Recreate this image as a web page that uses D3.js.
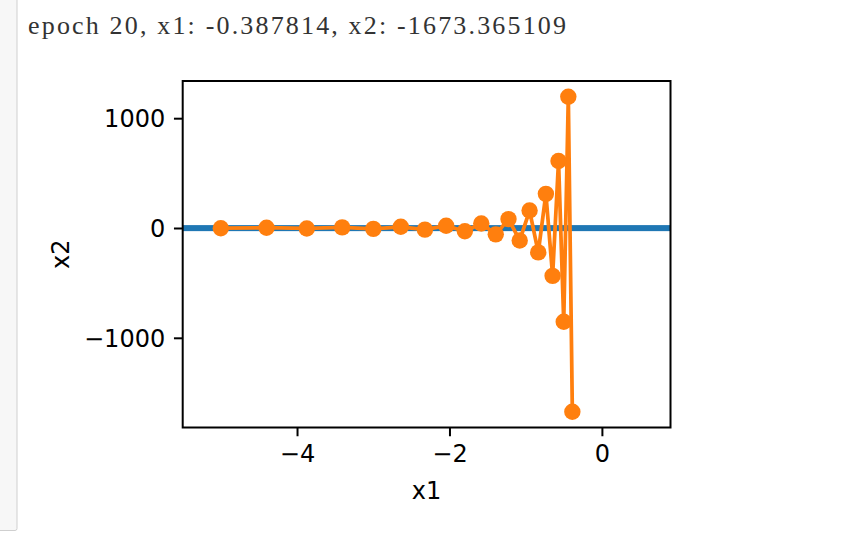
<!DOCTYPE html>
<html>
<head>
<meta charset="utf-8">
<script src="https://cdn.jsdelivr.net/npm/d3@7"></script>
<style>
  html, body { margin: 0; padding: 0; background: #fff; }
  svg { display: block; }
</style>
</head>
<body>
<svg id="chart" width="865" height="536"></svg>
<script>
// ---- data (trace of gradient descent) ----
const headerText = "epoch 20, x1: -0.387814, x2: -1673.365109";
const traceX1 = [-5, -4.4, -3.872, -3.40736, -2.99848, -2.63866, -2.32202, -2.04338,
  -1.79817, -1.58239, -1.39250, -1.22540, -1.07835, -0.94895, -0.83508, -0.73487,
  -0.64668, -0.56908, -0.50079, -0.44070, -0.38781];
const traceX2 = [-2, 2.8, -3.92, 5.488, -7.683, 10.756, -15.059, 21.083, -29.516,
  41.322, -57.851, 80.991, -113.388, 158.743, -222.240, 311.136, -435.591, 609.827,
  -853.758, 1195.261, -1673.365];
const contourX1Range = [-5.5, 0.9];
const contourX2Range = [-3.0, 0.9];
const xTicks = [-4, -2, 0];
const yTicks = [-1000, 0, 1000];
const xLabel = "x1";
const yLabel = "x2";

// ---- layout ----
const svg = d3.select("#chart");
const pLeft = 182.7, pRight = 670.5, pTop = 81, pBottom = 427.5;

// notebook cell side panel
svg.append("rect")
  .attr("x", -4).attr("y", -4).attr("width", 21).attr("height", 534.5)
  .attr("rx", 2)
  .attr("fill", "#f7f7f7").attr("stroke", "#cfcfcf").attr("stroke-width", 1);

// header output text
svg.append("text")
  .attr("x", 28).attr("y", 34)
  .attr("font-family", "'Liberation Serif', 'DejaVu Serif', serif")
  .attr("font-size", 26)
  .attr("fill", "#333")
  .attr("textLength", 538)
  .attr("lengthAdjust", "spacing")
  .text(headerText);

const xmin = Math.min(contourX1Range[0], d3.min(traceX1));
const xmax = Math.max(contourX1Range[1], d3.max(traceX1));
const ylo = Math.min(contourX2Range[0], d3.min(traceX2));
const yhi = Math.max(contourX2Range[1], d3.max(traceX2));
const pad = (yhi - ylo) * 0.05;

const x = d3.scaleLinear().domain([xmin, xmax]).range([pLeft, pRight]);
const y = d3.scaleLinear().domain([ylo - pad, yhi + pad]).range([pBottom, pTop]);

const fmt = v => (v < 0 ? "\u2212" + Math.abs(v) : String(v));
const font = "'DejaVu Sans', sans-serif";
const fs = 24;

svg.append("clipPath").attr("id", "clip")
  .append("rect").attr("x", pLeft).attr("y", pTop)
  .attr("width", pRight - pLeft).attr("height", pBottom - pTop);

const plot = svg.append("g").attr("clip-path", "url(#clip)");

// contour band (collapsed contour lines at this scale)
const cTop = y(contourX2Range[1]), cBot = y(contourX2Range[0]);
plot.append("rect")
  .attr("x", x(contourX1Range[0])).attr("width", x(contourX1Range[1]) - x(contourX1Range[0]))
  .attr("y", cTop - 2.8).attr("height", (cBot - cTop) + 5.6)
  .attr("fill", "#1f77b4");

// trace line + markers
const pts = traceX1.map((v, i) => [v, traceX2[i]]);
plot.append("path")
  .datum(pts)
  .attr("d", d3.line().x(d => x(d[0])).y(d => y(d[1])))
  .attr("fill", "none")
  .attr("stroke", "#ff7f0e")
  .attr("stroke-width", 3.75)
  .attr("stroke-linejoin", "round");

plot.selectAll("circle.pt")
  .data(pts).enter().append("circle")
  .attr("class", "pt")
  .attr("cx", d => x(d[0])).attr("cy", d => y(d[1]))
  .attr("r", 8.2)
  .attr("fill", "#ff7f0e");

// axes
const xAxis = d3.axisBottom(x).tickValues(xTicks).tickFormat(fmt)
  .tickSize(8.75).tickPadding(8.75);
const gx = svg.append("g").attr("transform", `translate(0,${pBottom})`).call(xAxis);
gx.select(".domain").remove();
gx.selectAll(".tick line").attr("stroke", "#000").attr("stroke-width", 2);
gx.selectAll(".tick text").attr("font-family", font).attr("font-size", fs)
  .attr("fill", "#000").attr("dy", "0.71em");

const yAxis = d3.axisLeft(y).tickValues(yTicks).tickFormat(fmt)
  .tickSize(8.75).tickPadding(8.75);
const gy = svg.append("g").attr("transform", `translate(${pLeft},0)`).call(yAxis);
gy.select(".domain").remove();
gy.selectAll(".tick line").attr("stroke", "#000").attr("stroke-width", 2);
gy.selectAll(".tick text").attr("font-family", font).attr("font-size", fs)
  .attr("fill", "#000").attr("dy", "0.36em");

// frame
svg.append("rect")
  .attr("x", pLeft).attr("y", pTop)
  .attr("width", pRight - pLeft).attr("height", pBottom - pTop)
  .attr("fill", "none").attr("stroke", "#000").attr("stroke-width", 2);

// axis labels
svg.append("text")
  .attr("x", (pLeft + pRight) / 2).attr("y", 499)
  .attr("text-anchor", "middle")
  .attr("font-family", font).attr("font-size", fs)
  .text(xLabel);

svg.append("text")
  .attr("transform", `translate(69,${(pTop + pBottom) / 2}) rotate(-90)`)
  .attr("text-anchor", "middle")
  .attr("font-family", font).attr("font-size", fs)
  .text(yLabel);
</script>
</body>
</html>
